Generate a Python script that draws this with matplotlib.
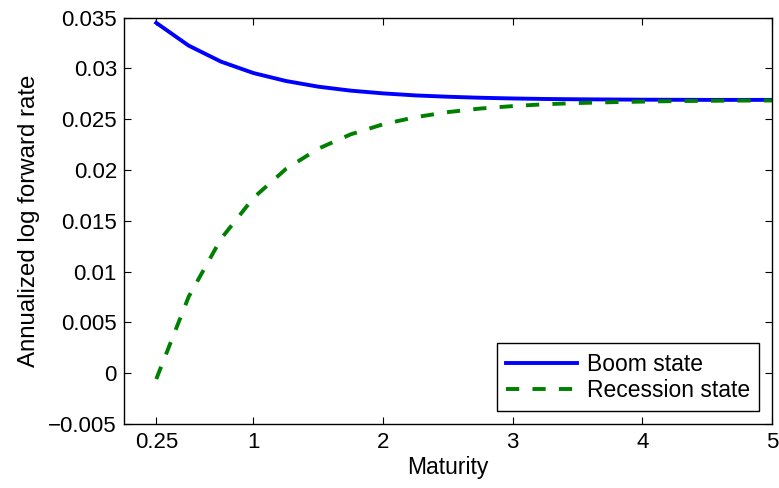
import matplotlib.pyplot as plt
import numpy as np

plt.rcParams['font.family'] = ['Liberation Sans', 'DejaVu Sans']

# maturities in years (quarterly)
maturity = [0.25, 0.5, 0.75, 1.0, 1.25, 1.5, 1.75, 2.0, 2.25, 2.5,
            2.75, 3.0, 3.25, 3.5, 3.75, 4.0, 4.25, 4.5, 4.75, 5.0]
boom = [0.03448, 0.03224, 0.03066, 0.02954, 0.02876, 0.02820, 0.02781,
        0.02754, 0.02734, 0.02721, 0.02711, 0.02704, 0.02699, 0.02696,
        0.02694, 0.02692, 0.02691, 0.02690, 0.02690, 0.02690]
recession = [-0.00057, 0.00753, 0.01324, 0.01726, 0.02010, 0.02210, 0.02351,
             0.02450, 0.02520, 0.02570, 0.02605, 0.02629, 0.02647, 0.02659,
             0.02667, 0.02673, 0.02678, 0.02681, 0.02683, 0.02684]
xticks = [0.25, 1, 2, 3, 4, 5]
yticks = np.arange(-0.005, 0.0351, 0.005)
ytick_labels = ['\u22120.005', '0', '0.005', '0.01', '0.015', '0.02',
                '0.025', '0.03', '0.035']

fig = plt.figure(figsize=(7.79, 4.88), dpi=100)
ax = fig.add_axes([0.159, 0.131, 0.832, 0.833])

ax.plot(maturity, boom, color=(0, 0, 1), lw=2.8, label='Boom state')
ax.plot(maturity, recession, color=(0, 0.5, 0), lw=2.8,
        linestyle=(0, (3.4, 3.4)), label='Recession state')

ax.set_xlim(0, 5)
ax.set_ylim(-0.005, 0.035)
ax.set_xticks(xticks)
ax.set_xticklabels(['0.25', '1', '2', '3', '4', '5'])
ax.set_yticks(yticks)
ax.set_yticklabels(ytick_labels)
ax.tick_params(direction='in', top=True, right=True, labelsize=16,
               length=5, width=0.8)
ax.tick_params(axis='x', pad=6)
ax.tick_params(axis='y', pad=5)
for s in ax.spines.values():
    s.set_linewidth(1.0)

ax.set_xlabel('Maturity', fontsize=16.5, labelpad=2)
ax.set_ylabel('Annualized log forward rate', fontsize=17.3, labelpad=6)

leg = ax.legend(loc='lower right', fontsize=16.5, frameon=True, fancybox=False,
                edgecolor='black', framealpha=1, borderpad=0.42,
                handlelength=3.1, handletextpad=0.4, labelspacing=0.12,
                borderaxespad=0.55)
leg.get_frame().set_linewidth(1.0)

fig.savefig('out.png', dpi=100)
